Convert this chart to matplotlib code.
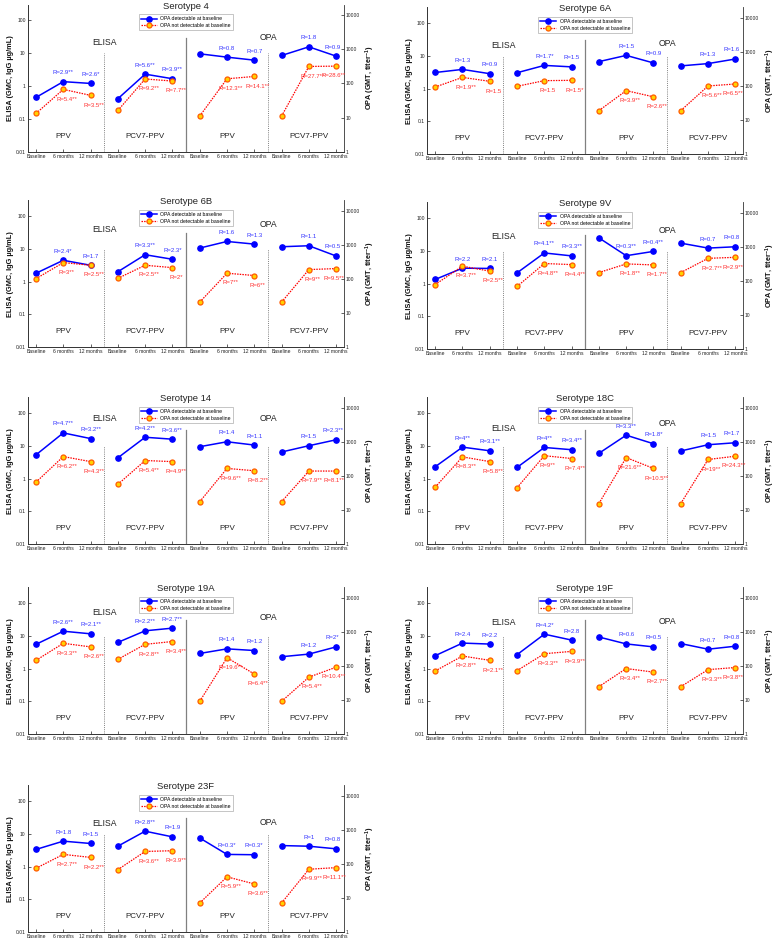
import matplotlib
matplotlib.use("Agg")
import matplotlib.pyplot as plt
from matplotlib.lines import Line2D
from matplotlib.ticker import NullLocator, FixedLocator, FixedFormatter

plt.rcParams['font.family'] = ['Liberation Sans', 'DejaVu Sans']
plt.rcParams['mathtext.fontset'] = 'custom'
plt.rcParams['mathtext.rm'] = 'Liberation Sans'
plt.rcParams['mathtext.bf'] = 'Liberation Sans:bold'

serotypes = ['4', '6A', '6B', '9V', '14', '18C', '19A', '19F', '23F']

# order within each row: PPV baseline, 6 m, 12 m, PCV7-PPV baseline, 6 m, 12 m
det_elisa = [
    [0.45, 1.36, 1.2, 0.41, 2.3, 1.67],
    [3.1, 3.85, 2.85, 3.05, 5.1, 4.6],
    [1.8, 4.47, 3.15, 2.0, 6.6, 4.8],
    [1.34, 2.96, 2.9, 2.13, 8.6, 7.0],
    [5.3, 24.7, 16.6, 4.3, 18.2, 15.9],
    [2.3, 9.1, 7.05, 2.2, 8.9, 7.6],
    [5.5, 13.8, 11.5, 6.3, 14.2, 17.1],
    [2.48, 6.0, 5.6, 2.66, 11.2, 7.4],
    [3.34, 5.97, 5.07, 4.2, 12.0, 8.07],
]
nondet_elisa = [
    [0.146, 0.79, 0.52, 0.18, 1.64, 1.42],
    [1.12, 2.2, 1.67, 1.18, 1.75, 1.79],
    [1.23, 3.8, 3.15, 1.26, 3.15, 2.67],
    [0.94, 3.4, 2.4, 0.82, 4.1, 3.8],
    [0.78, 4.7, 3.3, 0.67, 3.56, 3.3],
    [0.55, 4.6, 3.3, 0.53, 5.0, 4.1],
    [1.79, 5.9, 4.6, 1.92, 5.5, 6.7],
    [0.85, 2.42, 1.79, 0.87, 2.85, 3.35],
    [0.89, 2.36, 1.91, 0.81, 2.9, 3.05],
]
det_opa = [
    [731, 584, 477, 653, 1170, 625],
    [515, 783, 471, 386, 451, 614],
    [800, 1250, 1045, 875, 936, 469],
    [1820, 548, 732, 1277, 915, 1000],
    [717, 1000, 801, 502, 766, 1143],
    [460, 1557, 875, 538, 819, 936],
    [232, 316, 283, 186, 222, 361],
    [702, 441, 361, 451, 309, 378],
    [575, 190, 186, 345, 330, 277],
]
nondet_opa = [
    [11, 136, 159, 11, 312, 319],
    [19, 73, 48, 19, 100, 114],
    [21, 147, 126, 21, 188, 201],
    [176, 315, 294, 176, 459, 491],
    [17.6, 166, 142, 17.6, 139, 139],
    [15.6, 345, 166, 15.6, 303, 378],
    [9.2, 174, 58, 9.2, 47, 92],
    [24.8, 84, 66, 24.8, 78, 90],
    [7.2, 42, 26, 7.2, 70, 78],
]
# ratio labels for 6 m and 12 m: ELISA PPV, ELISA PCV7-PPV, OPA PPV, OPA PCV7-PPV
det_ratio = [
    ['R=2.9**', 'R=2.6*', 'R=5.6**', 'R=3.9**', 'R=0.8', 'R=0.7', 'R=1.8', 'R=0.9'],
    ['R=1.3', 'R=0.9', 'R=1.7*', 'R=1.5', 'R=1.5', 'R=0.9', 'R=1.3', 'R=1.6'],
    ['R=2.4*', 'R=1.7', 'R=3.3**', 'R=2.3*', 'R=1.6', 'R=1.3', 'R=1.1', 'R=0.5'],
    ['R=2.2', 'R=2.1', 'R=4.1**', 'R=3.3**', 'R=0.3**', 'R=0.4**', 'R=0.7', 'R=0.8'],
    ['R=4.7**', 'R=3.2**', 'R=4.2**', 'R=3.6**', 'R=1.4', 'R=1.1', 'R=1.5', 'R=2.3**'],
    ['R=4**', 'R=3.1**', 'R=4**', 'R=3.4**', 'R=3.3**', 'R=1.8*', 'R=1.5', 'R=1.7'],
    ['R=2.6**', 'R=2.1**', 'R=2.2**', 'R=2.7**', 'R=1.4', 'R=1.2', 'R=1.2', 'R=2*'],
    ['R=2.4', 'R=2.2', 'R=4.2*', 'R=2.8', 'R=0.6', 'R=0.5', 'R=0.7', 'R=0.8'],
    ['R=1.8', 'R=1.5', 'R=2.8**', 'R=1.9', 'R=0.3*', 'R=0.3*', 'R=1', 'R=0.8'],
]
nondet_ratio = [
    ['R=5.4**', 'R=3.5**', 'R=9.2**', 'R=7.7**', 'R=12.3**', 'R=14.1**', 'R=27.7**', 'R=28.6**'],
    ['R=1.9**', 'R=1.5', 'R=1.5', 'R=1.5*', 'R=3.9**', 'R=2.6**', 'R=5.6**', 'R=6.5**'],
    ['R=3**', 'R=2.5**', 'R=2.5**', 'R=2*', 'R=7**', 'R=6**', 'R=9**', 'R=9.5**'],
    ['R=3.7**', 'R=2.5**', 'R=4.8**', 'R=4.4**', 'R=1.8**', 'R=1.7**', 'R=2.7**', 'R=2.9**'],
    ['R=6.2**', 'R=4.3**', 'R=5.4**', 'R=4.9**', 'R=9.6**', 'R=8.2**', 'R=7.9**', 'R=8.1**'],
    ['R=8.3**', 'R=5.8**', 'R=9**', 'R=7.4**', 'R=21.6**', 'R=10.5**', 'R=19**', 'R=24.3**'],
    ['R=3.3**', 'R=2.6**', 'R=2.8**', 'R=3.4**', 'R=19.6**', 'R=6.4**', 'R=5.4**', 'R=10.4**'],
    ['R=2.8**', 'R=2.1**', 'R=3.3**', 'R=3.9**', 'R=3.4**', 'R=2.7**', 'R=3.3**', 'R=3.8**'],
    ['R=2.7**', 'R=2.2**', 'R=3.6**', 'R=3.9**', 'R=5.9**', 'R=3.6**', 'R=9.9**', 'R=11.1**'],
]
time_labels = ['Baseline', '6 months', '12 months']
group_labels = ['PPV', 'PCV7-PPV', 'PPV', 'PCV7-PPV']
elisa_ticks = [0.01, 0.1, 1, 10, 100]
elisa_ticklabels = ['0.01', '0.1', '1', '10', '100']
opa_ticks = [1, 10, 100, 1000, 10000]
opa_ticklabels = ['1', '10', '100', '1000', '10000']
legend_labels = ['OPA detectable at baseline', 'OPA not detectable at baseline']

# layout: heights (left-axis units) of the "ELISA" / "OPA" headings per panel
elisa_head_y = [21, 20, 40, 28, 68, 34, 50, 25, 21]
opa_head_y = [31, 24, 56, 42, 68, 48, 37, 27, 22]

W, H = 777, 942
fig = plt.figure(figsize=(W / 100, H / 100), dpi=100)

col_x = [27.8, 427.0]
row_bottom = [151.7, 154.3, 347.3, 349.3, 544.3, 544.3, 734.3, 734.3, 932.3]
ax_w, ax_h = 316.0, 147.0

BLUE = '#0000FF'
BLUE_TXT = '#3535FF'
RED = '#FF0000'
RED_TXT = '#FF3030'
M_FACE = '#FFD200'
M_EDGE = '#FF5A00'
SEP = '#808080'
SPINE = '#333333'

xs_elisa = [[1, 2, 3], [4, 5, 6]]
xs_opa = [[7, 8, 9], [10, 11, 12]]

for i, st in enumerate(serotypes):
    x0 = col_x[i % 2]
    yb = row_bottom[i]
    ax = fig.add_axes([x0 / W, 1 - yb / H, ax_w / W, ax_h / H])
    ax2 = ax.twinx()
    ax.set_yscale('log')
    ax2.set_yscale('log')
    ax.set_ylim(0.01, 300)
    ax2.set_ylim(1, 20000)
    ax.set_xlim(0.7, 12.28)

    for a in (ax, ax2):
        a.spines['top'].set_visible(False)
        for s in ('left', 'right', 'bottom'):
            a.spines[s].set_color(SPINE)
            a.spines[s].set_linewidth(0.6)
        a.yaxis.set_minor_locator(NullLocator())
        a.tick_params(axis='both', which='major', direction='in', length=2.2,
                      width=0.5, labelsize=3.6, pad=1.5, colors='#222222')
    ax.spines['right'].set_visible(False)
    ax.yaxis.set_major_locator(FixedLocator(elisa_ticks))
    ax.yaxis.set_major_formatter(FixedFormatter(elisa_ticklabels))
    ax2.yaxis.set_major_locator(FixedLocator(opa_ticks))
    ax2.yaxis.set_major_formatter(FixedFormatter(opa_ticklabels))
    ax.set_xticks(list(range(1, 13)))
    ax.set_xticklabels(time_labels * 4)
    ax.tick_params(axis='x', pad=1.5)

    # separators
    ax.plot([3.5, 3.5], [0.01, 10], ls=(0, (1, 1.2)), color=SEP, lw=0.7)
    ax.plot([9.5, 9.5], [0.01, 10], ls=(0, (1, 1.2)), color=SEP, lw=0.7)
    ax.plot([6.5, 6.5], [0.01, 30], ls='-', color=SEP, lw=0.9)

    ax.text(3.5, elisa_head_y[i], 'ELISA', ha='center', va='center', fontsize=6.2, color='#222222')
    ax.text(9.5, opa_head_y[i], 'OPA', ha='center', va='center', fontsize=6.2, color='#222222')
    for g, lab in enumerate(group_labels):
        ax.text(2 + 3 * g, 0.03, lab, ha='center', va='center', fontsize=5.8, color='#222222')

    def draw(a, xs, yb_, yr, lb, lr):
        a.plot(xs, yb_, '-', color=BLUE, lw=1.1, marker='o', ms=3.8,
               mfc=BLUE, mec=BLUE, zorder=4)
        a.plot(xs, yr, ls=(0, (1.2, 0.9)), color=RED, lw=0.9, marker='o', ms=3.6,
               mfc=M_FACE, mec=M_EDGE, mew=0.9, zorder=4)
        for k in range(2):
            xpt = xs[k + 1]
            dx_b = -2.5 if xpt == 12 else 0
            dx_r = -1.5 if xpt == 12 else 2.5
            a.annotate(lb[k], (xpt, yb_[k + 1]), xytext=(dx_b, 6.5),
                       textcoords='offset points', ha='center', va='center',
                       fontsize=4.3, color=BLUE_TXT)
            a.annotate(lr[k], (xpt, yr[k + 1]), xytext=(dx_r, -7),
                       textcoords='offset points', ha='center', va='center',
                       fontsize=4.3, color=RED_TXT)

    for g in range(2):
        draw(ax, xs_elisa[g], det_elisa[i][3 * g:3 * g + 3], nondet_elisa[i][3 * g:3 * g + 3],
             det_ratio[i][2 * g:2 * g + 2], nondet_ratio[i][2 * g:2 * g + 2])
        draw(ax2, xs_opa[g], det_opa[i][3 * g:3 * g + 3], nondet_opa[i][3 * g:3 * g + 3],
             det_ratio[i][4 + 2 * g:4 + 2 * g + 2], nondet_ratio[i][4 + 2 * g:4 + 2 * g + 2])

    ax.set_ylabel('ELISA (GMC, IgG µg/mL)', fontsize=5.3, fontweight='bold', color='#111111')
    ax.yaxis.set_label_coords(-0.045, 0.5)
    ax2.set_ylabel(r'OPA (GMT, titer$^{\mathbf{-1}}$)', fontsize=5.2, fontweight='bold',
                   color='#111111', rotation=90)
    ax2.yaxis.set_label_coords(1.064, 0.5)

    ax.text(0.5, 0.99, 'Serotype ' + st, transform=ax.transAxes, ha='center', va='center',
            fontsize=6.8, color='#222222')

    handles = [
        Line2D([], [], color=BLUE, lw=1.1, marker='o', ms=3.8, mfc=BLUE, mec=BLUE),
        Line2D([], [], color=RED, lw=0.9, ls=(0, (1.2, 0.9)), marker='o', ms=3.6,
               mfc=M_FACE, mec=M_EDGE, mew=0.9),
    ]
    leg = ax2.legend(handles, legend_labels, loc='upper center', bbox_to_anchor=(0.5, 0.935),
                     fontsize=3.7, frameon=True, fancybox=False, edgecolor='#999999',
                     handlelength=3.2, handletextpad=0.6, borderpad=0.4, labelspacing=0.35,
                     borderaxespad=0)
    leg.get_frame().set_linewidth(0.5)

fig.savefig('out.png', dpi=100)
